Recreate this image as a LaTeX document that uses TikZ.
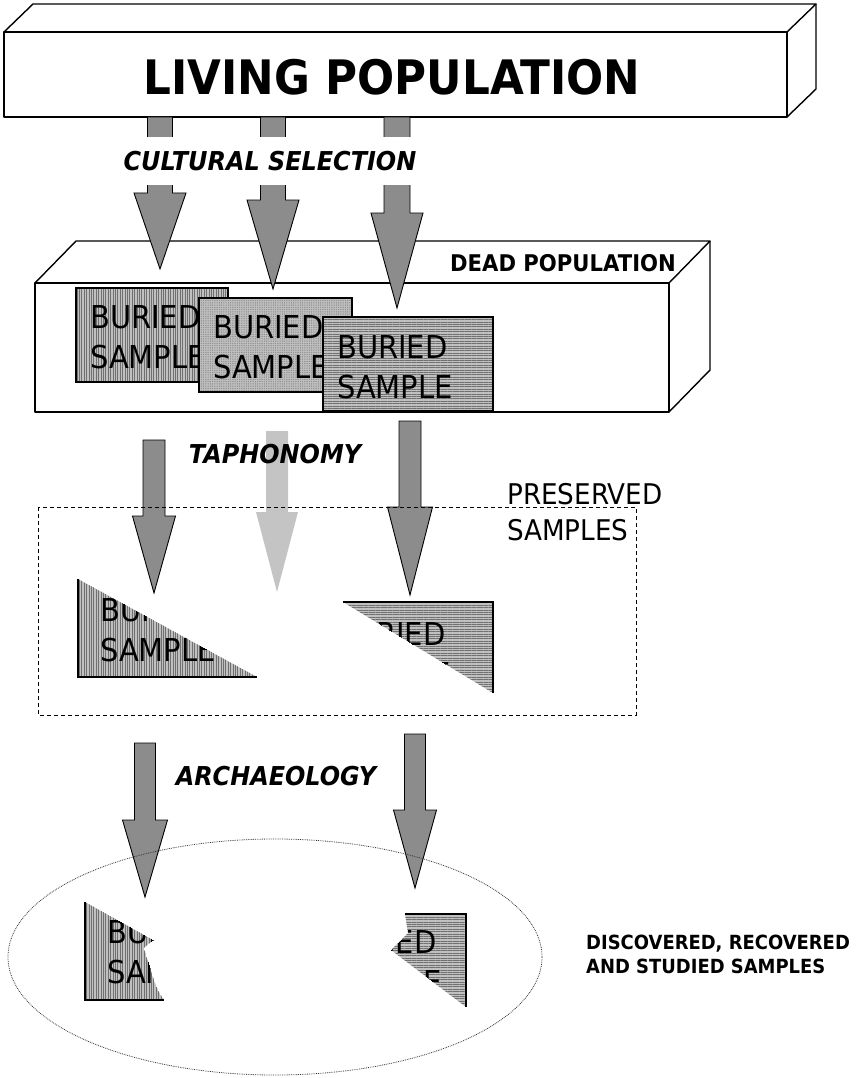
\documentclass[tikz,border=0pt]{standalone}
\usepackage{fontspec}
\usepackage{tikz}
\usetikzlibrary{patterns.meta}
\newfontfamily\tahfont[FakeStretch=0.92]{DejaVu Sans}
\definecolor{arrgray}{RGB}{140,140,140}
\definecolor{lostgray}{RGB}{196,196,196}
\definecolor{sampgray}{RGB}{192,192,192}
\definecolor{stripe}{RGB}{112,112,112}
% block arrow: [style] x, y top, y head base, y tip, half stem, half head
\newcommand{\stagearrow}[7][arrbody]{%
  \draw[#1] ({#2-#6},#3) -- ({#2+#6},#3) -- ({#2+#6},#4) -- ({#2+#7},#4)
    -- (#2,#5) -- ({#2-#7},#4) -- ({#2-#6},#4) -- cycle;}

\begin{document}
\begin{tikzpicture}[x=1pt,y=-1pt,
  box/.style={draw=black,line width=1.4pt,line join=round},
  arrbody/.style={fill=arrgray,draw=black,line width=0.9pt},
  lostbody/.style={fill=lostgray,draw=none},
  vsamp/.style={fill=sampgray,postaction={pattern={Lines[angle=90,distance=2.4pt,line width=0.6pt]},pattern color=stripe}},
  hsamp/.style={fill=sampgray,postaction={pattern={Lines[angle=0,distance=2.4pt,line width=0.6pt]},pattern color=stripe}},
  dsamp/.style={fill=sampgray,postaction={pattern={Dots[distance=1.8pt,radius=0.42pt]},pattern color=stripe}},
  edge/.style={draw=black,line width=1.2pt},
  samp/.style={font=\tahfont\fontsize{31.5}{40}\selectfont,align=left,inner sep=0pt,anchor=north west},
  headtxt/.style={font=\tahfont\bfseries\fontsize{47.5}{47.5}\selectfont,inner sep=0pt},
  boxtxt/.style={font=\tahfont\bfseries\fontsize{23}{23}\selectfont,inner sep=0pt},
  stage/.style={font=\tahfont\bfseries\itshape\fontsize{26}{26}\selectfont,inner sep=0pt},
  side/.style={font=\tahfont\fontsize{28.5}{36}\selectfont,align=left,inner sep=0pt,anchor=north west},
  found/.style={font=\tahfont\bfseries\fontsize{19.5}{24}\selectfont,align=left,inner sep=0pt,anchor=north west}]
\useasboundingbox (0,0) rectangle (856,1078);

% living population
\draw[box,fill=white] (4,32) rectangle (787,117);
\draw[box] (4,32) -- (33,4) -- (816,4) -- (787,32);
\draw[box] (816,4) -- (816,89) -- (787,117);
\node[headtxt] (living) at (392,77) {LIVING POPULATION};

% dead population
\draw[box,fill=white] (35,283) rectangle (669,412);
\draw[box] (35,283) -- (76,241) -- (710,241) -- (669,283);
\draw[box] (710,241) -- (710,370) -- (669,412);
\node[boxtxt] (dead) at (563,263) {DEAD POPULATION};

% buried samples
\begin{scope}
  \clip (76,288) rectangle (228,382);
  \fill[vsamp] (76,288) rectangle (228,382);
  \node[samp] (bur1) at (90,305) {BURIED\\SAMPLE};
\end{scope}
\draw[edge] (76,288) rectangle (228,382);
\begin{scope}
  \clip (199,298) rectangle (352,392);
  \fill[dsamp] (199,298) rectangle (352,392);
  \node[samp] (bur2) at (213,315) {BURIED\\SAMPLE};
\end{scope}
\draw[edge] (199,298) rectangle (352,392);
\begin{scope}
  \clip (323,317) rectangle (493,411);
  \fill[hsamp] (323,317) rectangle (493,411);
  \node[samp] (bur3) at (337,335) {BURIED\\SAMPLE};
\end{scope}
\draw[edge] (323,317) rectangle (493,411);

% cultural selection
\stagearrow{160}{117}{193}{269}{12.5}{26}
\stagearrow{273}{117}{200}{289}{12.5}{26}
\stagearrow{397}{117}{213}{308}{13}{26}
\node[stage,fill=white,minimum height=48pt,inner xsep=3pt] (cult) at (270,161) {CULTURAL SELECTION};

% taphonomy
\stagearrow{154}{440}{516}{593}{11}{21.5}
\stagearrow[lostbody]{277}{431}{512}{592}{11}{21}
\stagearrow{410}{421}{507}{595}{11}{22.5}
\node[stage] (taph) at (275,454) {TAPHONOMY};

\draw[dashed,line width=0.8pt,dash pattern=on 4pt off 3pt] (38,507) rectangle (636,715);
\node[side] (pres) at (507,483) {PRESERVED\\SAMPLES};

\begin{scope}
  \clip (78,579) -- (257,677) -- (78,677) -- cycle;
  \fill[vsamp] (78,579) -- (257,677) -- (78,677) -- cycle;
  \node[samp] (pres1) at (100,598) {BURIED\\SAMPLE};
\end{scope}
\draw[edge] (78,579) -- (78,677) -- (257,677);
\begin{scope}
  \clip (343,602) -- (493,602) -- (493,693) -- cycle;
  \fill[hsamp] (343,602) -- (493,602) -- (493,693) -- cycle;
  \node[samp] (pres2) at (335,622) {BURIED\\SAMPLE};
\end{scope}
\draw[edge] (343,602) -- (493,602) -- (493,693);

% archaeology
\stagearrow{145}{743}{820}{897}{10.5}{22.5}
\stagearrow{415}{734}{810}{888}{10.5}{21.5}
\node[stage] (arch) at (276,776) {ARCHAEOLOGY};

\draw[densely dotted,line width=0.8pt,black!80] (275,957) ellipse [x radius=267pt,y radius=118pt];

\begin{scope}
  \clip (85,902) -- (153,940) -- (144,948) .. controls (150,968) and (155,988) .. (164,1000) -- (85,1000) -- cycle;
  \fill[vsamp] (85,902) -- (153,940) -- (144,948) .. controls (150,968) and (155,988) .. (164,1000) -- (85,1000) -- cycle;
  \node[samp] (disc1) at (107,920) {BURIED\\SAMPLE};
\end{scope}
\draw[edge] (85,902) -- (85,1000) -- (164,1000);
\begin{scope}
  \clip (466,914) -- (405,914) -- (408,933) -- (391,950) -- (466,1007) -- cycle;
  \fill[hsamp] (466,914) -- (405,914) -- (408,933) -- (391,950) -- (466,1007) -- cycle;
  \node[samp] (disc2) at (326,930) {BURIED\\SAMPLE};
\end{scope}
\draw[edge] (405,914) -- (466,914) -- (466,1007);

\node[found] (studied) at (586,935) {DISCOVERED, RECOVERED\\AND STUDIED SAMPLES};
\end{tikzpicture}
\end{document}
